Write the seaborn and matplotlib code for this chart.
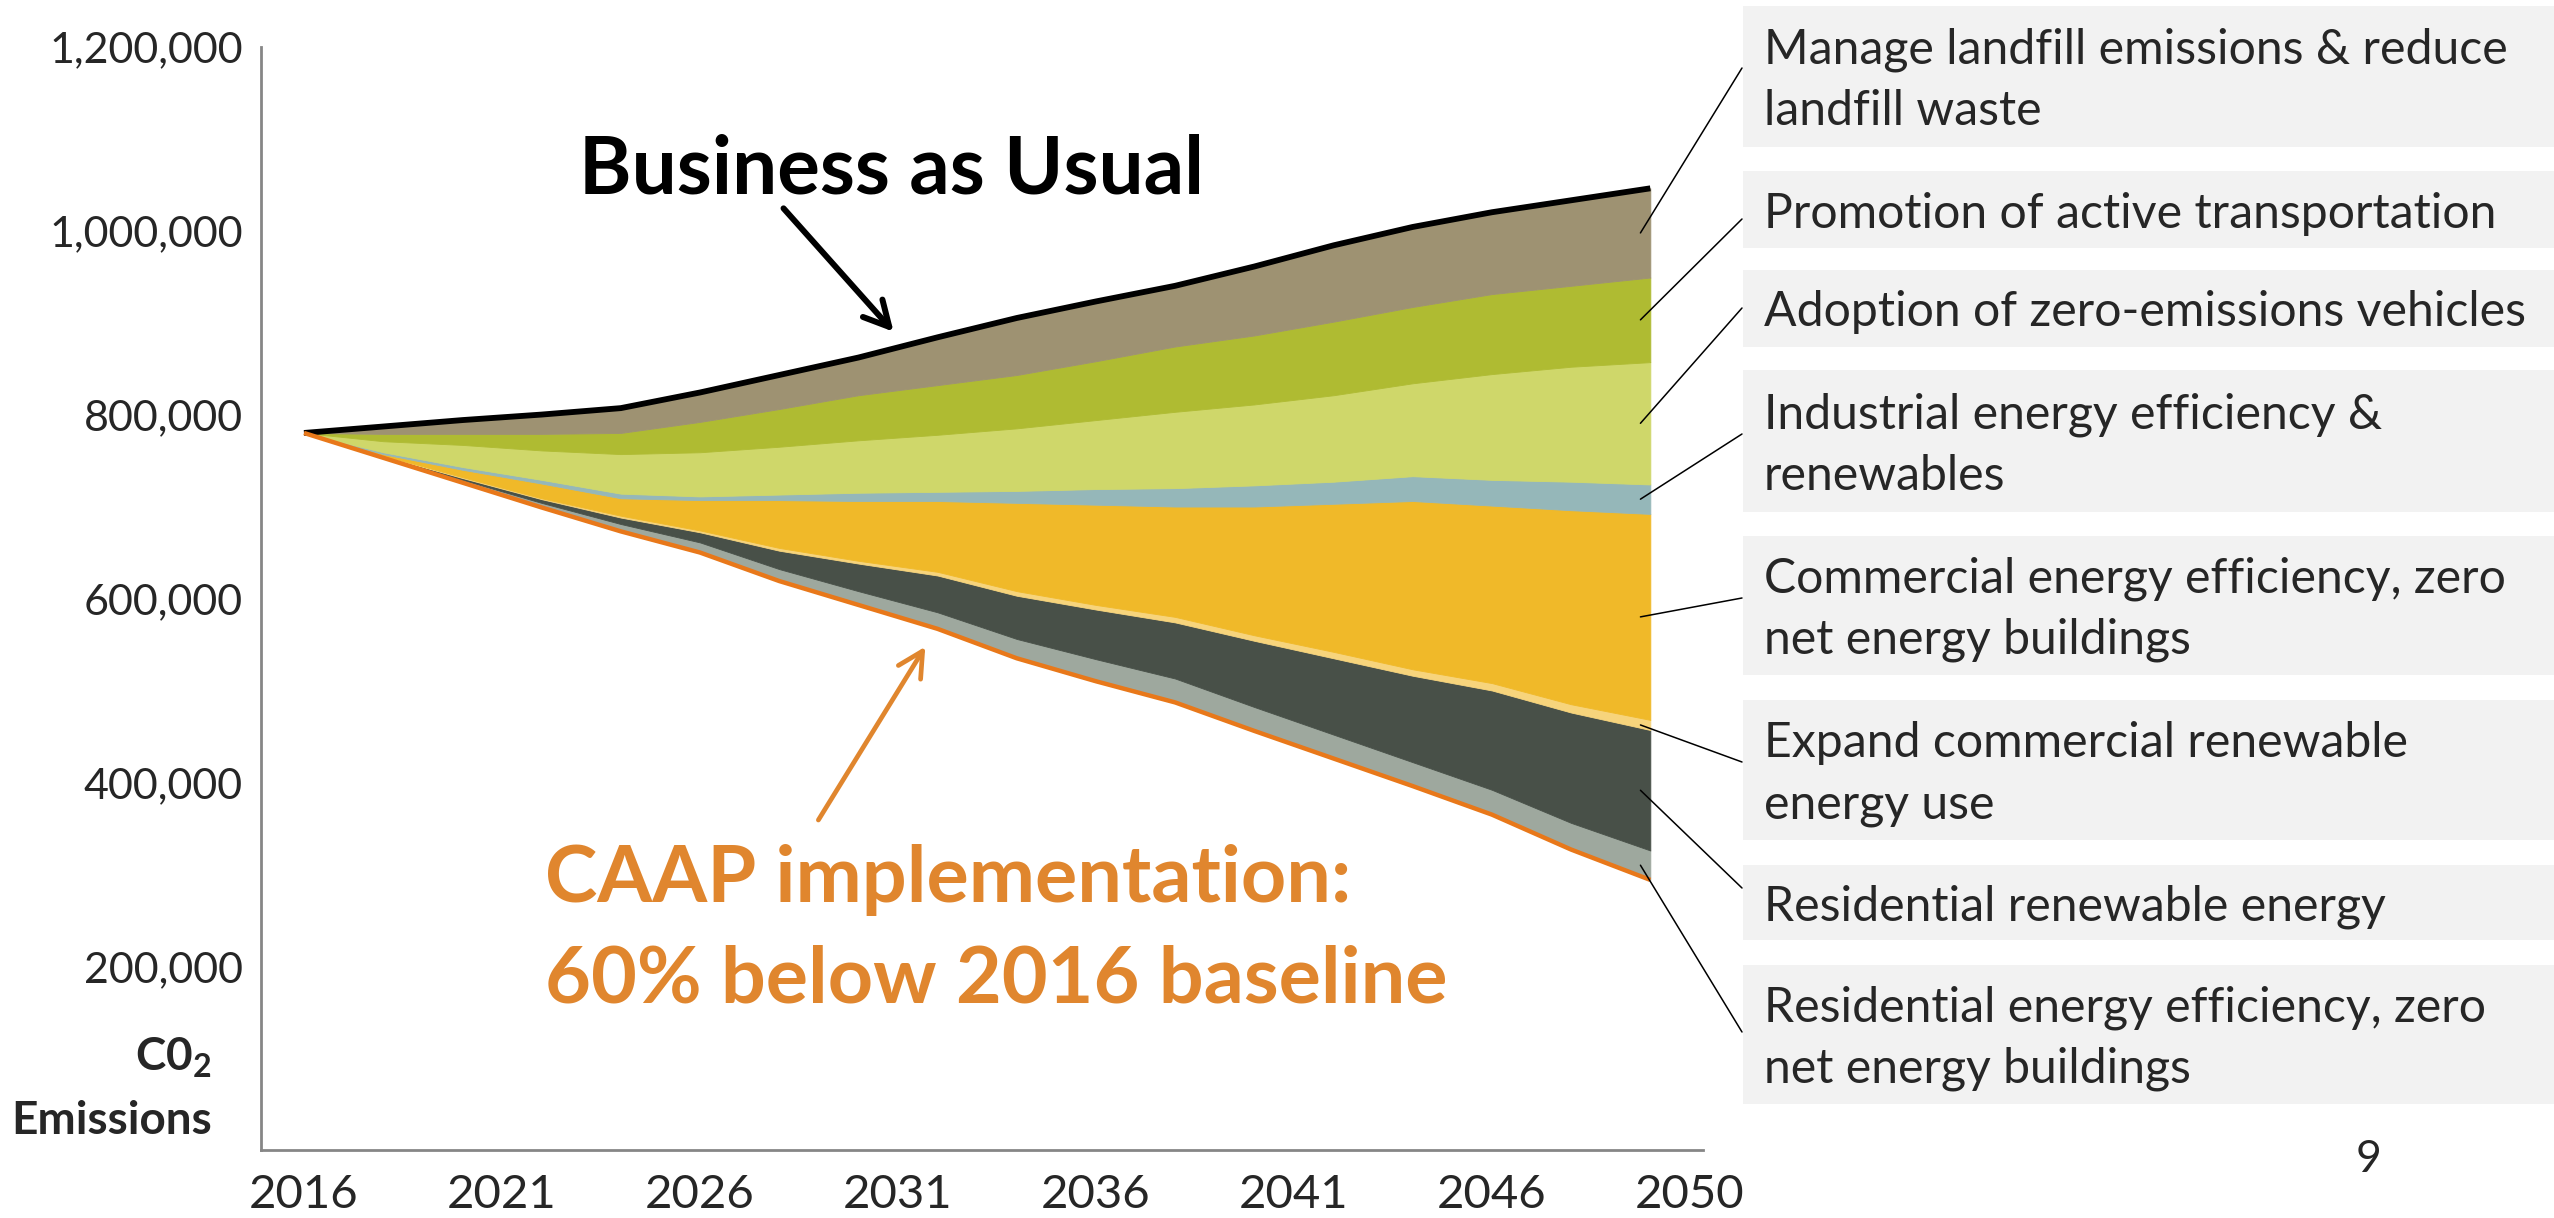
import numpy as np
import pandas as pd
import matplotlib
matplotlib.use("Agg")
import matplotlib.pyplot as plt
import seaborn as sns
from matplotlib import font_manager
from matplotlib.patches import Rectangle
from matplotlib.ticker import StrMethodFormatter

# Years (every second year)
years = [2016, 2018, 2020, 2022, 2024, 2026, 2028, 2030, 2032,
         2034, 2036, 2038, 2040, 2042, 2044, 2046, 2048, 2050]

# CAAP implementation path (bottom line), thousand t CO2
caap = [780, 753, 726, 699, 673, 650, 619, 593, 567,
        535, 510, 487, 456, 426, 396, 365, 327, 294]

# Reduction wedges stacked on the CAAP line, bottom to top (thousand t CO2)
res_ee = [0, 1, 3, 5, 8, 11, 13, 15, 18, 21, 24, 26, 26, 26, 26, 27, 29, 32]
res_re = [0, 1, 2, 4, 7, 11, 20, 30, 40, 47, 54, 61, 72, 83, 94, 108, 120, 131]
com_re = [0, 0.5, 1, 1, 2, 2, 3, 3, 4, 5, 5, 6, 6, 7, 7, 8, 9, 11]
com_ee = [0, 1.5, 8, 16, 19, 33, 52, 65, 77, 96, 109, 120, 140, 161, 183, 193, 211, 224]
industrial = [0, 2, 3, 4, 5, 4, 6, 9, 10, 13, 17, 20, 23, 24, 27, 28, 31, 32]
zev = [0, 12, 24, 32, 43, 48, 52, 57, 62, 68, 75, 83, 88, 94, 101, 115, 125, 133]
active = [0, 8, 12, 18, 23, 33, 41, 49, 54, 58, 64, 71, 75, 80, 83, 87, 88, 92]
landfill = [0, 8, 15, 21, 27, 32, 37, 41, 52, 62, 65, 66, 75, 83, 87, 89, 93, 97]

wedges = [res_ee, res_re, com_re, com_ee, industrial, zev, active, landfill]
wedge_colors = ["#9EA89E", "#485048", "#F7D47C", "#F0B929",
                "#95B7B9", "#CFD76A", "#AFBB32", "#9E9272"]

# Measure labels, top to bottom (same order as the boxes on the right)
measure_labels = [
    "Manage landfill emissions & reduce\nlandfill waste",
    "Promotion of active transportation",
    "Adoption of zero-emissions vehicles",
    "Industrial energy efficiency &\nrenewables",
    "Commercial energy efficiency, zero\nnet energy buildings",
    "Expand commercial renewable\nenergy use",
    "Residential renewable energy",
    "Residential energy efficiency, zero\nnet energy buildings",
]

tick_pos = [2016, 2021, 2026, 2031, 2036, 2041, 2046, 2051]
tick_labels = ["2016", "2021", "2026", "2031", "2036", "2041", "2046", "2050"]
y_ticks = [200000, 400000, 600000, 800000, 1000000, 1200000]

# Build the stacked table
df = pd.DataFrame({"year": years, "CAAP": np.array(caap) * 1000})
layer_edges = [df["CAAP"].to_numpy()]
for w in wedges:
    layer_edges.append(layer_edges[-1] + np.array(w) * 1000)
df["BAU"] = layer_edges[-1]

# Fonts
names = {f.name for f in font_manager.fontManager.ttflist}
font = "Lato" if "Lato" in names else "DejaVu Sans"
sns.set_style("white")
plt.rcParams["font.family"] = [font, "DejaVu Sans"]
plt.rcParams["mathtext.fontset"] = "custom"
plt.rcParams["mathtext.rm"] = font
plt.rcParams["mathtext.bf"] = font + ":bold"

W, H = 2554, 1218
fx = lambda px: px / W
fy = lambda py: 1 - py / H

fig = plt.figure(figsize=(W / 100, H / 100), dpi=100)
ax = fig.add_axes([fx(260.7), fy(1150.3), fx(1703) - fx(260.7), fy(46.7) - fy(1150.3)])

# Stacked wedges
for i, c in enumerate(wedge_colors):
    ax.fill_between(df["year"], layer_edges[i], layer_edges[i + 1],
                    color=c, lw=0.6, edgecolor=c)

# Business as usual and CAAP lines
orange_line = "#E8781A"
orange_text = "#E0862E"
sns.lineplot(data=df, x="year", y="BAU", color="black", lw=4.2, ax=ax,
             solid_capstyle="butt")
sns.lineplot(data=df, x="year", y="CAAP", color=orange_line, lw=3.2, ax=ax,
             solid_capstyle="butt")

ax.set_xlim(2014.907, 2051.33)
ax.set_ylim(0, 1200000)
ax.set_xlabel("")
ax.set_ylabel("")

ax.set_xticks(tick_pos)
ax.set_xticklabels(tick_labels)
ax.set_xticks(np.arange(2016.5, 2051, 1), minor=True)
ax.tick_params(axis="x", which="major", length=0, pad=17, labelsize=34)
ax.tick_params(axis="x", which="minor", length=7.6, width=1.1,
               color="#D9D9D9", direction="out")
ax.set_yticks(y_ticks)
ax.yaxis.set_major_formatter(StrMethodFormatter("{x:,.0f}"))
ax.tick_params(axis="y", which="major", direction="in", length=14.4,
               width=2.2, color="#868686", pad=13, labelsize=31)

for s in ["top", "right"]:
    ax.spines[s].set_visible(False)
for s in ["left", "bottom"]:
    ax.spines[s].set_color("#868686")
    ax.spines[s].set_linewidth(2)

# Annotations
ax.text(2022.95, 1040870, "Business as Usual", fontsize=57.5, fontweight="bold",
        ha="left", va="baseline", color="black")
ax.annotate("", xy=(2030.89, 890064), xytext=(2028.11, 1024237),
            arrowprops=dict(arrowstyle="->,head_length=0.9,head_width=0.47",
                            lw=4.3, color="black", mutation_scale=20,
                            shrinkA=0, shrinkB=0))
ax.text(2022.09, 270520, "CAAP implementation:", fontsize=57, fontweight="bold",
        ha="left", va="baseline", color=orange_text)
ax.text(2022.09, 161247, "60% below 2016 baseline", fontsize=57,
        fontweight="bold", ha="left", va="baseline", color=orange_text)
ax.annotate("", xy=(2031.69, 547564), xytext=(2028.99, 359135),
            arrowprops=dict(arrowstyle="->,head_length=0.9,head_width=0.47",
                            lw=3.4, color=orange_text, mutation_scale=20,
                            shrinkA=0, shrinkB=0))

# Y axis caption
fig.text(fx(212), fy(1071), r"C0$_\mathbf{2}$", fontsize=33, fontweight="bold",
         ha="right", va="baseline")
fig.text(fx(212), fy(1134), "Emissions", fontsize=33, fontweight="bold",
         ha="right", va="baseline")

# Label boxes on the right with leader lines
box_rows = [(6, 147), (171, 248), (270, 347), (370, 512),
            (536, 675), (700, 840), (865, 940), (965, 1104)]
leader_y = [68, 219, 308, 434, 598, 762, 888, 1032]
for i, label in enumerate(measure_labels):
    top, bot = box_rows[i]
    fig.add_artist(Rectangle((fx(1743), fy(bot)), 1 - fx(1743), (bot - top) / H,
                             transform=fig.transFigure, facecolor="#F2F2F2",
                             edgecolor="none"))
    fig.text(fx(1764), fy((top + bot) / 2 + 4), label, fontsize=34.7, ha="left",
             va="center", linespacing=1.47)
    k = len(layer_edges) - 1 - i
    mid = (layer_edges[k][-1] + layer_edges[k - 1][-1]) / 2
    ax.annotate("", xy=(2049.75, mid), xycoords="data",
                xytext=(fx(1742), fy(leader_y[i])), textcoords="figure fraction",
                arrowprops=dict(arrowstyle="-", lw=1.1, color="black",
                                shrinkA=0, shrinkB=0),
                annotation_clip=False)

# Slide number
fig.text(fx(2368), fy(1159), "9", fontsize=32, ha="center", va="center")

fig.savefig("out.png", dpi=100)
